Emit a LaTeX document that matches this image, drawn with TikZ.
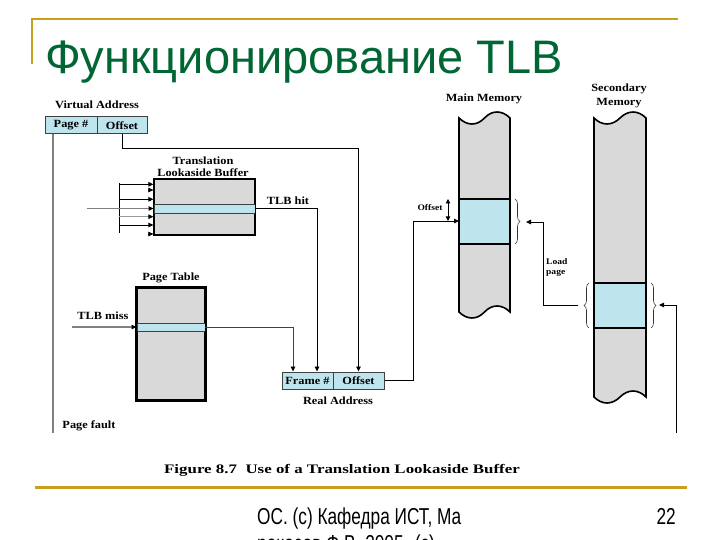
\documentclass[tikz,border=0pt]{standalone}
\usepackage{fontspec}
\setmainfont{Liberation Serif}
\newfontfamily\titlefont{Liberation Sans}
\newfontfamily\footfont[FakeStretch=0.75]{Liberation Sans}
\newfontfamily\lblfont[FakeStretch=1.12]{Liberation Serif}
\newfontfamily\capfont[FakeStretch=1.3]{Liberation Serif}
\usetikzlibrary{arrows.meta,decorations.pathreplacing}
\definecolor{gold}{RGB}{200,160,30}
\definecolor{tgreen}{RGB}{0,102,51}
\definecolor{pblue}{RGB}{190,228,238}
\definecolor{pgray}{RGB}{217,217,217}
\definecolor{lgray}{RGB}{128,128,128}
\begin{document}
\begin{tikzpicture}[x=1pt,y=-1pt,
  lbl/.style={font=\lblfont\bfseries\fontsize{11}{12}\selectfont, inner sep=0pt},
  smalllbl/.style={font=\lblfont\bfseries\fontsize{8.5}{9}\selectfont, inner sep=0pt},
  field/.style={draw=black!75, line width=1pt, fill=pblue, minimum height=17pt, inner sep=0pt, lbl},
  box/.style={draw=black, fill=pgray, inner sep=0pt},
  row/.style={draw=black!75, line width=0.9pt, fill=pblue, inner sep=0pt},
  arr/.style={-{Triangle[length=5pt,width=4.5pt,color=black]}},
  conn/.style={black, line width=0.9pt},
  gline/.style={lgray, line width=1.8pt},
  brace/.style={decorate, decoration={brace, amplitude=5pt}, line width=0.6pt, black!80},
  mem/.style={draw=black, line width=1.6pt, fill=pgray}]
\fill[white] (0,0) rectangle (720,540);
\useasboundingbox (0,0) rectangle (720,540);
\clip (0,0) rectangle (720,540);

% slide decoration
\draw[gold, line width=2.6pt] (31,19) -- (678,19);
\draw[gold, line width=2.6pt] (32,18) -- (32,64);
\node[anchor=base west, text=tgreen, font=\titlefont\fontsize{47}{50}\selectfont, inner sep=0pt] (title) at (45,74) {Функционирование TLB};
\draw[gold, line width=3pt] (35,487) -- (687,487);
\node[anchor=base west, font=\footfont\fontsize{23}{25}\selectfont, inner sep=0pt] (foot1) at (257,524) {ОС. (c) Кафедра ИСТ, Ма};
\node[anchor=base west, font=\footfont\fontsize{23}{25}\selectfont, inner sep=0pt] (foot2) at (257,551) {ракасов Ф.В. 2005. (c)};
\node[anchor=base east, font=\footfont\fontsize{23}{25}\selectfont, inner sep=0pt] (pnum) at (676,524) {22};

% virtual address
\node[lbl] (vlabel) at (97,105) {Virtual Address};
\node[field, minimum width=52pt] (vpage) at (71,125.5) {Page \#};
\node[field, minimum width=50pt] (voff) at (122,125.5) {Offset};

% TLB
\node[lbl] (tlbl1) at (203,161) {Translation};
\node[lbl] (tlbl2) at (203,173) {Lookaside Buffer};
\node[box, line width=1.2pt, minimum width=101pt, minimum height=56pt] (tlb) at (204.5,207) {};
\node[row, minimum width=101pt, minimum height=9pt] (tlbrow) at (204.5,208.5) {};
\draw[line width=1.2pt] (tlb.north west) rectangle (tlb.south east);

% TLB inputs
\coordinate (bt) at (119,183);
\coordinate (bb) at (119,233);
\draw[conn, line width=0.8pt] (bt) -- (bb);
\foreach \yy in {184.3,199.3,225} {
  \coordinate (in) at (119,\yy);
  \draw[conn, line width=0.8pt, arr] (in) -- (in -| tlb.west);
}
\coordinate (inl) at (119,216.7);
\draw[black!40, line width=0.8pt, arr] (inl) -- (inl -| tlb.west);
\foreach \yy in {190,234} {
  \coordinate (ia) at (148,\yy);
  \draw[conn, line width=0.6pt, arr] (ia) -- (ia -| tlb.west);
}
\coordinate (tlbin) at (87,208.5);
\draw[gline, arr] (tlbin) -- (tlbrow.west);

% page table
\node[lbl] (ptl) at (171,278) {Page Table};
\node[box, line width=1.8pt, minimum width=68pt, minimum height=112pt] (pt) at (171,344) {};
\node[row, minimum width=68pt, minimum height=8pt] (ptrow) at (171,327) {};
\draw[line width=1.8pt] (pt.north west) rectangle (pt.south east);
\node[lbl] (missl) at (103,316) {TLB miss};
\coordinate (missin) at (72,327);
\draw[gline, arr] (missin) -- (ptrow.west);

% page fault
\coordinate (pf) at (53,433);
\draw[gline] ([xshift=-18pt]vpage.south) -- (pf);
\node[lbl] (pfl) at (89,426) {Page fault};

% real address
\node[field, minimum width=51pt] (rframe) at (307.5,380.5) {Frame \#};
\node[field, minimum width=51pt] (roff) at (358.5,380.5) {Offset};
\node[lbl] (ral) at (338,401) {Real Address};

% TLB hit
\node[lbl] (hitl) at (288,201) {TLB hit};
\draw[conn, arr] (tlbrow.east) -| ([xshift=9.5pt]rframe.north);
\draw[conn, black!75, arr] (ptrow.east) -| ([xshift=-14.5pt]rframe.north);
\draw[conn, arr] (voff.south) -- ++(0,13.5) -| (roff.north);

% main memory
\node[lbl] (mml) at (484,99) {Main Memory};
\draw[mem] (459,118) .. controls (467,126) and (477,126) .. (484.5,118)
  .. controls (492,110) and (502,110) .. (510,118) -- (510,312)
  .. controls (502,304) and (492,304) .. (484.5,312)
  .. controls (477,320) and (467,320) .. (459,312) -- cycle;
\node[draw=black, line width=1.3pt, fill=pblue, minimum width=51pt, minimum height=45pt, inner sep=0pt] (mmblock) at (484.5,221.5) {};
\coordinate (mmin) at (459,221);
\draw[conn, arr] (roff.east) -- ++(29,0) |- (mmin);
\draw[conn, line width=0.8pt, {Triangle[length=4.5pt,width=4.5pt]}-{Triangle[length=4.5pt,width=4.5pt]}] (448,199) -- (448,221);
\node[smalllbl] (offl) at (430,208) {Offset};
\draw[brace] (515,199) -- (515,244);

% secondary memory
\node[lbl] (sml1) at (619,89) {Secondary};
\node[lbl] (sml2) at (619,103) {Memory};
\draw[mem] (594,118) .. controls (602,126) and (612,126) .. (620,118)
  .. controls (628,110) and (638,110) .. (646,118) -- (646,397)
  .. controls (638,389) and (628,389) .. (620,397)
  .. controls (612,405) and (602,405) .. (594,397) -- cycle;
\node[draw=black, line width=1.3pt, fill=pblue, minimum width=52pt, minimum height=45pt, inner sep=0pt] (smblock) at (620,305.5) {};
\draw[brace] (589,328) -- (589,283);
\draw[brace] (651,283) -- (651,328);

% load page
\coordinate (lpfrom) at (578,305);
\coordinate (lpto) at (526,222);
\draw[conn, arr] (lpfrom) -- (543,305) |- (lpto);
\node[smalllbl, anchor=west] (lp1) at (546,262) {Load};
\node[smalllbl, anchor=west] (lp2) at (546,273) {page};

% page fault into secondary
\coordinate (sfb) at (676,433);
\coordinate (sfto) at (659,305);
\draw[conn, arr] (sfb) |- (sfto);

% caption
\node[font=\capfont\bfseries\fontsize{13}{14}\selectfont, inner sep=0pt] (cap) at (342,470) {Figure 8.7\ \ Use of a Translation Lookaside Buffer};
\end{tikzpicture}
\end{document}
